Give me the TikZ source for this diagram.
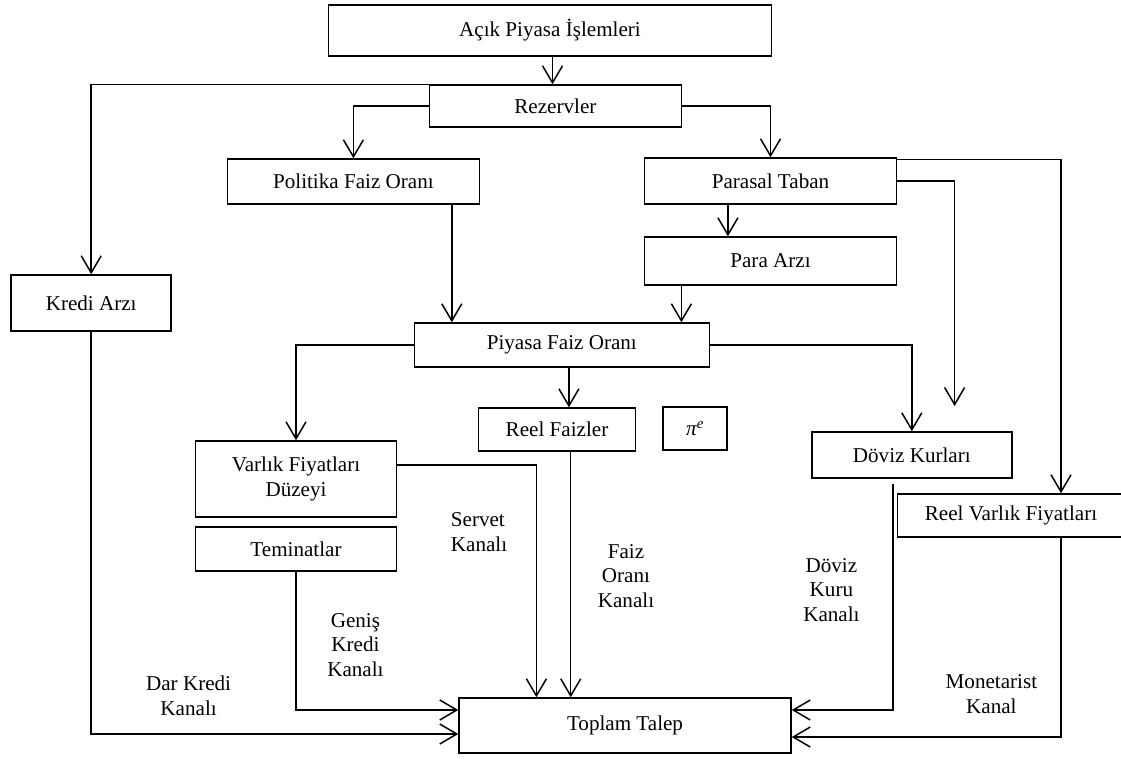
\documentclass[tikz,border=0pt]{standalone}
\usepackage{fontspec}
\setmainfont{Liberation Serif}
\usetikzlibrary{arrows.meta}
\begin{document}
\begin{tikzpicture}[x=1pt,y=-1pt,
  font=\fontsize{21.1}{24.5}\selectfont,
  box/.style={draw,line width=1.5pt,rectangle,inner sep=0pt,align=center},
  arr/.style={line width=1.5pt,-{Straight Barb[length=17pt,width=20pt,line width=1.5pt]}},
  lbl/.style={align=center,inner sep=0pt}]
\useasboundingbox (0,0) rectangle (1121,758);
% x helper coordinates
\coordinate (xa) at (552.5,0);
\coordinate (xb) at (451.8,0);
\coordinate (xc) at (1061,0);
\coordinate (xd) at (727.9,0);
\coordinate (xe) at (681.4,0);
\coordinate (xf) at (568.9,0);
\coordinate (xg) at (570.7,0);
\coordinate (xh) at (536.4,0);
\coordinate (xi) at (893.2,0);
\coordinate (pend) at (954.6,406);
% boxes
\node[box,minimum width=443pt,minimum height=51pt] (open) at (550,30.5) {Açık Piyasa İşlemleri};
\node[box,minimum width=252pt,minimum height=42pt] (rez) at (555.4,106) {Rezervler};
\node[box,minimum width=252pt,minimum height=45pt] (pol) at (353.4,181.5) {Politika Faiz Oranı};
\node[box,minimum width=160pt,minimum height=56pt] (kredi) at (91.2,303) {Kredi Arzı};
\node[box,minimum width=252pt,minimum height=46pt] (par) at (770.5,181) {Parasal Taban};
\node[box,minimum width=252pt,minimum height=48pt] (paraarz) at (770.5,261) {Para Arzı};
\node[box,minimum width=295pt,minimum height=44pt] (piy) at (561.8,345) {Piyasa Faiz Oranı};
\node[box,minimum width=157pt,minimum height=43pt] (reel) at (557,429.5) {Reel Faizler};
\node[box,minimum width=64pt,minimum height=43pt] (pie) at (695,428.5) {{\itshape π}\textsuperscript{\itshape e}};
\node[box,minimum width=200.7pt,minimum height=76pt] (varlik) at (296,479) {Varlık Fiyatları\\Düzeyi};
\node[box,minimum width=200.7pt,minimum height=44pt] (temin) at (296,549) {Teminatlar};
\node[box,minimum width=200pt,minimum height=46pt] (doviz) at (911.8,455) {Döviz Kurları};
\node[box,minimum width=227pt,minimum height=43pt] (rvf) at (1011,515.5) {Reel Varlık Fiyatları};
\node[box,minimum width=332pt,minimum height=55pt] (toplam) at (625,725.5) {Toplam Talep};
% channel labels
\node[lbl,anchor=west,align=left] (servet) at (450.7,532) {Servet\\Kanalı};
\node[lbl] (genis) at (355.4,645) {Geniş\\Kredi\\Kanalı};
\node[lbl] (dar) at (188.6,696) {Dar Kredi\\Kanalı};
\node[lbl] (faiz) at (626,576) {Faiz\\Oranı\\Kanalı};
\node[lbl] (dovizk) at (831.4,590) {Döviz\\Kuru\\Kanalı};
\node[lbl] (monet) at (991.4,694) {Monetarist\\Kanal};
% connectors
\draw[arr] (open.south -| xa) -- (rez.north -| xa);
\draw[arr] (rez.north west) -| (kredi.north);
\draw[arr] (rez.west) -| (pol.north);
\draw[arr] (rez.east) -| (par.north);
\draw[arr] (pol.south -| xb) -- (piy.north -| xb);
\draw[arr] ([yshift=-2pt]par.north east) -| (rvf.north -| xc);
\draw[arr] (par.east) -| (pend);
\draw[arr] (par.south -| xd) -- (paraarz.north -| xd);
\draw[arr] (paraarz.south -| xe) -- (piy.north -| xe);
\draw[arr] (piy.east) -| (doviz.north);
\draw[arr] (piy.west) -| (varlik.north);
\draw[arr] (piy.south -| xf) -- (reel.north -| xf);
\draw[arr] (reel.south -| xg) -- (toplam.north -| xg);
\draw[arr] ([yshift=14pt]varlik.east) -| (toplam.north -| xh);
\draw[arr] (temin.south) |- ([yshift=15.5pt]toplam.west);
\draw[arr] (kredi.south) |- ([yshift=-8.5pt]toplam.west);
\draw[arr] ([yshift=-5pt]doviz.south -| xi) |- ([yshift=15.5pt]toplam.east);
\draw[arr] (rvf.south -| xc) |- ([yshift=-11.5pt]toplam.east);
\end{tikzpicture}
\end{document}
